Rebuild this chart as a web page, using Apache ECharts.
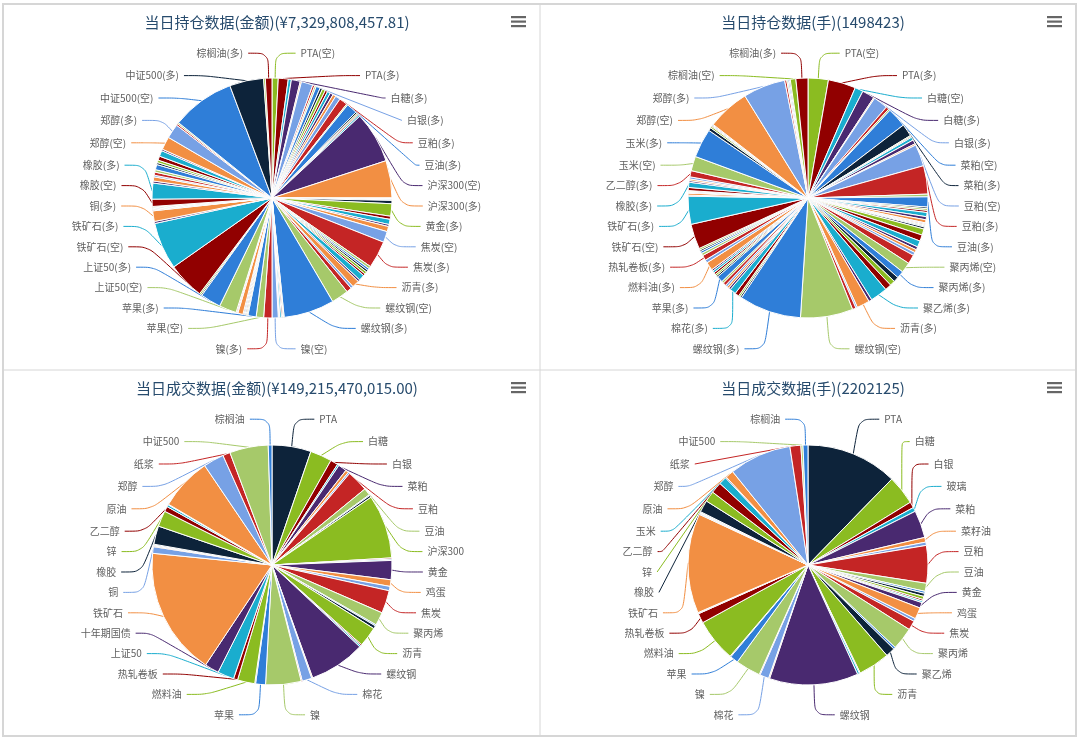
<!DOCTYPE html>
<html>
<head>
<meta charset="utf-8">
<script src="https://cdn.jsdelivr.net/npm/echarts@6/dist/echarts.min.js"></script>
<style>
html,body{margin:0;padding:0;background:#fff;}
#c{width:1080px;height:740px;}
</style>
</head>
<body>
<div id="c"></div>
<script>
// ---------- titles ----------
const titles = [
  '当日持仓数据(金额)(¥7,329,808,457.81)',
  '当日持仓数据(手)(1498423)',
  '当日成交数据(金额)(¥149,215,470,015.00)',
  '当日成交数据(手)(2202125)'
];

// ---------- position data (空/多 pairs), slice sizes (relative, degrees of 360) ----------
const positionNames = [
  'PTA(空)','PTA(多)','白糖(空)','白糖(多)','白银(空)','白银(多)','玻璃(空)','玻璃(多)','菜粕(空)','菜粕(多)',
  '菜籽油(空)','菜籽油(多)','淀粉(多)','动力煤(空)','动力煤(多)','豆粕(空)','豆粕(多)','豆油(空)','豆油(多)','二年期国债(空)',
  '二年期国债(多)','硅铁(空)','硅铁(多)','沪深300(空)','沪深300(多)','黄大豆一号(空)','黄大豆一号(多)','黄大豆二号(空)','黄大豆二号(多)','黄金(空)',
  '黄金(多)','鸡蛋(空)','鸡蛋(多)','焦煤(空)','焦煤(多)','焦炭(空)','焦炭(多)','聚丙烯(空)','聚丙烯(多)','聚氯乙烯(空)',
  '聚氯乙烯(多)','聚乙烯(空)','聚乙烯(多)','沥青(空)','沥青(多)','铝(空)','铝(多)','螺纹钢(空)','螺纹钢(多)','锰硅(空)',
  '锰硅(多)','棉花(空)','棉花(多)','棉纱(空)','棉纱(多)','镍(空)','镍(多)','苹果(空)','苹果(多)','铅(空)',
  '铅(多)','强麦(空)','强麦(多)','燃料油(空)','燃料油(多)','热轧卷板(空)','热轧卷板(多)','上证50(空)','上证50(多)','十年期国债(空)',
  '十年期国债(多)','铁矿石(空)','铁矿石(多)','铜(空)','铜(多)','五年期国债(空)','五年期国债(多)','锡(空)','锡(多)','线材(空)',
  '线材(多)','橡胶(空)','橡胶(多)','锌(空)','锌(多)','乙二醇(空)','乙二醇(多)','玉米(空)','玉米(多)','玉米淀粉(空)',
  '玉米淀粉(多)','原油(空)','原油(多)','早籼稻(多)','郑醇(空)','郑醇(多)','纸浆(空)','纸浆(多)','中证500(空)','中证500(多)',
  '棕榈油(空)','棕榈油(多)'
];
const positionAmount = [
  3.0, 4.8, 1.5, 4.3, 0.6, 5.6, 1.0, 0.8, 2.0, 1.2,
  1.5, 1.2, 1.5, 1.5, 1.5, 2.4, 4.0, 0.6, 5.2, 0.8,
  0.5, 0.6, 0.8, 24.8, 18.0, 0.3, 0.3, 0.3, 0.3, 1.6,
  6.0, 1.5, 2.5, 1.0, 2.5, 5.3, 13.2, 1.2, 1.0, 1.0,
  1.2, 1.0, 2.8, 1.0, 3.5, 1.2, 2.5, 8.3, 24.5, 0.3,
  0.4, 0.6, 0.8, 0.3, 0.4, 3.0, 4.0, 3.6, 4.0, 0.4,
  0.5, 0.5, 0.5, 0.5, 2.5, 0.4, 0.5, 8.4, 9.9, 0.6,
  0.7, 17.8, 22.7, 1.0, 5.1, 0.35, 0.35, 0.35, 0.35, 0.35,
  0.35, 3.5, 7.7, 1.0, 2.0, 0.8, 1.5, 1.2, 2.5, 1.0,
  1.2, 2.0, 2.8, 0.8, 6.3, 7.0, 0.8, 0.7, 30.5, 16.5,
  0.8, 3.2
];
const positionHands = [
  9.8, 13.3, 4.0, 6.0, 0.5, 7.0, 1.5, 0.8, 9.5, 6.0,
  0.5, 0.5, 1.5, 2.0, 0.7, 10.5, 13.7, 1.3, 4.9, 0.8,
  0.8, 1.0, 2.0, 1.5, 1.5, 0.5, 0.5, 0.5, 0.5, 1.0,
  3.0, 3.0, 3.0, 1.5, 1.5, 1.5, 4.4, 5.0, 3.5, 2.5,
  2.5, 3.1, 8.3, 1.5, 6.2, 0.8, 1.7, 25.3, 30.0, 0.8,
  0.8, 2.0, 3.0, 1.0, 1.0, 1.0, 1.5, 1.0, 3.0, 0.8,
  0.8, 1.0, 1.0, 0.8, 4.0, 1.5, 2.5, 1.2, 1.0, 0.8,
  0.8, 12.1, 13.5, 0.5, 1.0, 0.2, 0.2, 0.2, 0.2, 0.2,
  0.2, 1.5, 2.5, 0.8, 0.8, 1.0, 3.0, 7.0, 14.0, 1.5,
  0.8, 0.4, 0.4, 0.4, 20.4, 20.4, 1.0, 0.6, 0.6, 0.5,
  2.7, 5.8
];
const positionAmountLabeled = ['PTA(空)','PTA(多)','白糖(多)','白银(多)','豆粕(多)','豆油(多)','沪深300(空)','沪深300(多)','黄金(多)','焦炭(空)','焦炭(多)','沥青(多)','螺纹钢(空)','螺纹钢(多)','镍(空)','镍(多)','苹果(空)','苹果(多)','上证50(空)','上证50(多)','铁矿石(空)','铁矿石(多)','铜(多)','橡胶(空)','橡胶(多)','郑醇(空)','郑醇(多)','中证500(空)','中证500(多)','棕榈油(多)'];
const positionHandsLabeled = ['PTA(空)','PTA(多)','白糖(空)','白糖(多)','白银(多)','菜粕(空)','菜粕(多)','豆粕(空)','豆粕(多)','豆油(多)','聚丙烯(空)','聚丙烯(多)','聚乙烯(多)','沥青(多)','螺纹钢(空)','螺纹钢(多)','棉花(多)','苹果(多)','燃料油(多)','热轧卷板(多)','铁矿石(空)','铁矿石(多)','橡胶(多)','乙二醇(多)','玉米(空)','玉米(多)','郑醇(空)','郑醇(多)','棕榈油(空)','棕榈油(多)'];

// ---------- trade data (per product) ----------
const tradeNames = [
  'PTA','白糖','白银','玻璃','菜粕','菜籽油','动力煤','豆粕','豆油','二年期国债',
  '硅铁','沪深300','黄大豆一号','黄大豆二号','黄金','鸡蛋','焦煤','焦炭','聚丙烯','聚氯乙烯',
  '聚乙烯','沥青','铝','铅','螺纹钢','锰硅','棉花','棉纱','镍','苹果',
  '强麦','燃料油','热轧卷板','上证50','十年期国债','铁矿石','铜','五年期国债','锡','线材',
  '橡胶','锌','乙二醇','玉米','玉米淀粉','原油','郑醇','纸浆','中证500','棕榈油'
];
const tradeAmount = [
  18.9, 10.5, 3.7, 0.8, 4.1, 1.5, 0.8, 10.4, 3.5, 0.4,
  1.0, 31.0, 0.6, 0.6, 9.3, 3.2, 2.1, 11.1, 6.4, 0.6,
  1.5, 9.7, 0.6, 0.7, 27.2, 0.5, 4.7, 0.5, 17.2, 4.8,
  0.4, 8.4, 2.0, 8.0, 6.9, 62.0, 3.2, 0.4, 0.4, 0.4,
  8.9, 7.7, 2.5, 1.0, 0.3, 25.5, 10.0, 3.6, 18.7, 1.8
];
const tradeHands = [
  44.3, 14.2, 2.9, 2.0, 13.3, 2.3, 1.6, 18.2, 3.9, 1.0,
  1.5, 1.5, 0.8, 0.8, 2.7, 5.6, 1.4, 4.5, 10.9, 1.0,
  4.5, 15.3, 0.4, 1.0, 43.1, 0.5, 4.4, 0.4, 12.1, 4.0,
  0.4, 20.8, 4.7, 0.3, 0.3, 48.4, 0.5, 0.3, 0.3, 0.3,
  5.8, 5.2, 5.4, 3.8, 0.5, 4.0, 30.2, 5.3, 1.0, 2.4
];
const tradeAmountLabeled = ['PTA','白糖','白银','菜粕','豆粕','豆油','沪深300','黄金','鸡蛋','焦炭','聚丙烯','沥青','螺纹钢','棉花','镍','苹果','燃料油','热轧卷板','上证50','十年期国债','铁矿石','铜','橡胶','锌','乙二醇','原油','郑醇','纸浆','中证500','棕榈油'];
const tradeHandsLabeled = ['PTA','白糖','白银','玻璃','菜粕','菜籽油','豆粕','豆油','黄金','鸡蛋','焦炭','聚丙烯','聚乙烯','沥青','螺纹钢','棉花','镍','苹果','燃料油','热轧卷板','铁矿石','橡胶','锌','乙二醇','玉米','原油','郑醇','纸浆','中证500','棕榈油'];

// ---------- style ----------
const palette = ['#2f7ed8','#0d233a','#8bbc21','#910000','#1aadce','#492970','#f28f43','#77a1e5','#c42525','#a6c96a'];
const FONT = '"Noto Sans CJK SC", "Microsoft YaHei", sans-serif';
// panel boxes: x0 = panel left, top = panel top; pie centre is placed relative to the label box
const panels = [
  {x0: 4,   top: 4,   cx: 272, cy: 198},
  {x0: 540, top: 4,   cx: 808, cy: 198},
  {x0: 4,   top: 370, cx: 272, cy: 565},
  {x0: 540, top: 370, cx: 808, cy: 565}
];
const BOX_TOP = 38, BOX_H = 318, BOX_W = 536;

function pie(names, values, labeled, offset, p) {
  const boxTop = p.top + BOX_TOP;
  return {
    type: 'pie',
    left: p.x0, top: boxTop, width: BOX_W, height: BOX_H,
    center: [p.cx - p.x0, p.cy - boxTop],
    radius: 120,
    startAngle: 90,
    clockwise: true,
    animation: false,
    avoidLabelOverlap: true,
    emphasis: {disabled: true},
    itemStyle: {borderColor: '#ffffff', borderWidth: 1},
    label: {
      position: 'outside', formatter: '{b}', fontSize: 10, lineHeight: 20.4,
      color: '#606060', fontFamily: FONT
    },
    labelLine: {length: 16, length2: 20, smooth: 0.3, lineStyle: {width: 1}},
    data: names.map((n, i) => {
      const on = labeled.indexOf(n) >= 0;
      return {
        name: n, value: values[i],
        itemStyle: {color: palette[(i + offset) % 10]},
        label: {show: on}, labelLine: {show: on}
      };
    })
  };
}

const titleOpts = titles.map((t, k) => ({
  text: t, left: panels[k].cx, top: panels[k].top + 6, textAlign: 'center',
  textStyle: {fontSize: 15, fontWeight: 'normal', color: '#274b6d', fontFamily: FONT}
}));

const graphics = [
  {type: 'rect', shape: {x: 3, y: 4, width: 1073, height: 732}, style: {fill: 'none', stroke: '#d6d6d6', lineWidth: 2}, silent: true},
  {type: 'line', shape: {x1: 540, y1: 4, x2: 540, y2: 736}, style: {stroke: '#d6d6d6', lineWidth: 1}, silent: true},
  {type: 'line', shape: {x1: 3, y1: 370, x2: 1076, y2: 370}, style: {stroke: '#d6d6d6', lineWidth: 1}, silent: true}
];
panels.forEach(p => {
  const x0 = p.cx + 239, y0 = p.top + 12;
  [0, 4.5, 9].forEach(d => graphics.push({
    type: 'rect', shape: {x: x0, y: y0 + d, width: 15, height: 2.2},
    style: {fill: '#666666'}, silent: true
  }));
});

const chart = echarts.init(document.getElementById('c'), null, {renderer: 'canvas'});
chart.setOption({
  backgroundColor: '#ffffff',
  animation: false,
  title: titleOpts,
  graphic: graphics,
  series: [
    pie(positionNames, positionAmount, positionAmountLabeled, 2, panels[0]),
    pie(positionNames, positionHands, positionHandsLabeled, 2, panels[1]),
    pie(tradeNames, tradeAmount, tradeAmountLabeled, 1, panels[2]),
    pie(tradeNames, tradeHands, tradeHandsLabeled, 1, panels[3])
  ]
});
</script>
</body>
</html>
